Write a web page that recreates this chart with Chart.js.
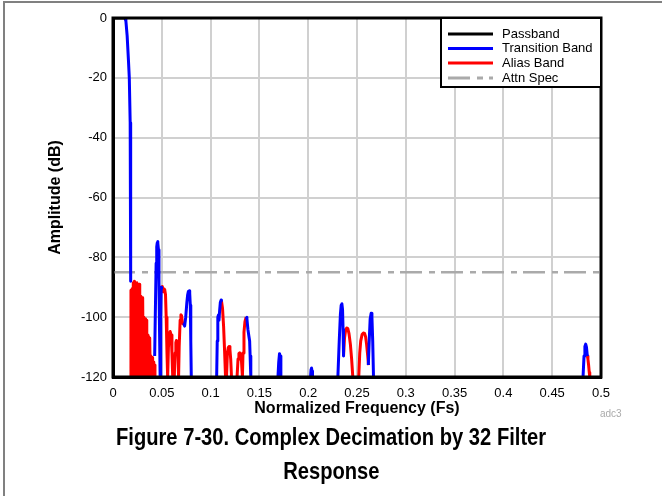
<!DOCTYPE html>
<html>
<head>
<meta charset="utf-8">
<script src="https://cdn.jsdelivr.net/npm/chart.js@4/dist/chart.umd.min.js"></script>
<style>
  body { margin: 0; background: #fff; font-family: "Liberation Sans", Arial, sans-serif; overflow: hidden; }
  #wrap { position: relative; width: 662px; height: 496px; overflow: hidden; }
  #frame { position: absolute; left: 3px; top: 1px; width: 659px; height: 495px;
           border-left: 2px solid #808080; border-top: 2px solid #808080; box-sizing: border-box; }
  #chart { position: absolute; left: 0; top: 0; }
  #tag { position: absolute; left: 600px; top: 408px; font-size: 10px; color: #aaa; }
  #caption { position: absolute; left: 0; top: 420px; width: 662px; text-align: center;
             font-weight: bold; font-size: 24px; line-height: 34px; color: #000; }
  #caption span { display: inline-block; transform: scaleX(0.84); transform-origin: center; white-space: nowrap; }
</style>
</head>
<body>
<div id="wrap">
  <div id="frame"></div>
  <canvas id="chart" width="662" height="420"></canvas>
  <div id="tag">adc3</div>
  <div id="caption"><span>Figure 7-30. Complex Decimation by 32 Filter</span><br><span>Response</span></div>
</div>
<script>
const xTicks = [0, 0.05, 0.1, 0.15, 0.2, 0.25, 0.3, 0.35, 0.4, 0.45, 0.5];
const xTickLabels = ["0", "0.05", "0.1", "0.15", "0.2", "0.25", "0.3", "0.35", "0.4", "0.45", "0.5"];
const yTickLabels = ["0", "-20", "-40", "-60", "-80", "-100", "-120"];

const seriesNames = ["Passband", "Transition Band", "Alias Band", "Attn Spec"];
const seriesColors = ["#000000", "#0000ff", "#ff0000", "#aaaaaa"];

const passX = [0, 0.004, 0.008, 0.0123];
const passY = [0, 0, 0, 0];

// null = break in the curve
const transX = [0.0123, 0.0132, 0.0145, 0.0158, 0.0167, 0.0176, 0.018, 0.0182, null,
  0.0427, 0.0434, 0.0442, 0.0448, 0.0453, 0.0457, 0.0461, 0.0466, 0.0471, 0.0477, 0.0483, 0.0489, 0.0494, 0.0498, null,
  0.0726, 0.0734, 0.0745, 0.0757, 0.0765, 0.0772, 0.078, 0.0786, 0.0792, 0.0797, 0.0802, null,
  0.1062, 0.1068, 0.1074, 0.108, 0.1086, 0.1092, 0.11, 0.1108, 0.1111, null,
  0.1364, 0.1372, 0.1382, 0.1392, 0.14, 0.1405, 0.1412, null,
  0.169, 0.1698, 0.1706, 0.1712, 0.172, null,
  0.2024, 0.2029, 0.2034, 0.2039, 0.2044, null,
  0.2304, 0.2318, 0.233, 0.2338, 0.2345, 0.2352, 0.2357, 0.2362, null,
  0.2616, 0.2625, 0.2635, 0.2645, 0.2653, 0.2661, 0.2669, null,
  0.4816, 0.4826, 0.4835, 0.4843, 0.4851, 0.486];
const transY = [0, -1, -6, -14, -20, -35, -60, -88, null,
  -113, -98, -82, -76.5, -75.2, -74.7, -75.2, -77.5, -88, -105, -120, -100, -90, -90.3, null,
  -102, -103, -100, -95, -92.5, -91.4, -91.2, -92, -96, -108, -120, null,
  -120, -108, -100, -99.3, -101, -98, -95, -94.3, -94.5, null,
  -100, -100.5, -104, -106.3, -108, -113, -120, null,
  -120, -115, -112.2, -113, -120, null,
  -120, -117.5, -117, -118, -120, null,
  -120, -108, -99, -96, -95.5, -97.5, -104, -113, null,
  -116, -108, -100.5, -98.7, -100, -108, -120, null,
  -120, -113, -109.8, -109, -110, -113];

const aliasX = [0.0182, 0.0184, 0.019, 0.0196, 0.0202, 0.0208, 0.0214, 0.022, 0.0226, 0.0232,
  0.0238, 0.0244, 0.025, 0.0256, 0.0262, 0.0268, 0.0274, 0.028, 0.0286, 0.0292,
  0.0298, 0.0304, 0.031, 0.0316, 0.0322, 0.0328, 0.0334, 0.034, 0.0346, 0.0352,
  0.0358, 0.0364, 0.037, 0.0376, 0.0382, 0.0388, 0.0394, 0.04, 0.0406, 0.0412,
  0.0418, 0.0424, 0.043, null,
  0.0498, 0.0506, 0.0514, 0.0522, 0.053, 0.0538, 0.0545, 0.0553, 0.056, 0.0568, 0.0578, 0.0586,
  0.0596, 0.0604, 0.0612, null,
  0.0628, 0.0636, 0.0644, 0.065, 0.0658, 0.0666, 0.0672, 0.0678, 0.0688, 0.0696, 0.0702, 0.071,
  0.0718, 0.0726, null,
  0.1111, 0.1122, 0.1133, 0.1143, 0.1153, null,
  0.1163, 0.1172, 0.1181, 0.1189, 0.1198, 0.1206, 0.1214, null,
  0.1271, 0.1281, 0.129, 0.1299, 0.1308, 0.1317, 0.1326, 0.1332, 0.1342, 0.1352, 0.1364, null,
  0.2362, 0.2372, 0.2383, 0.2395, 0.2406, 0.2418, 0.2432, 0.2445, 0.2457, null,
  0.2518, 0.2528, 0.2538, 0.2552, 0.2566, 0.2577, 0.2588, 0.2598, 0.261, 0.2618, null,
  0.486, 0.4866, 0.4873, 0.488, 0.4885];
const aliasY = [-120, -91, -120, -90.5, -115, -88.5, -120, -88, -112, -89,
  -120, -88.5, -110, -89.5, -120, -89, -114, -93, -120, -94,
  -111, -93.5, -120, -100, -116, -100.5, -120, -101, -117, -106,
  -120, -106.5, -118, -107, -120, -113, -120, -113.5, -120, -115,
  -120, -116, -120, null,
  -90.3, -89.8, -91.5, -90.5, -90.8, -92.5, -100, -112, -120, -110, -105.5, -104.8,
  -106, -112, -120, null,
  -120, -112, -108.5, -107.8, -109, -113, -120, -110, -101, -99.2, -99.5, -101.5,
  -102.3, -102, null,
  -94.5, -97, -103, -111, -120, null,
  -120, -112, -110.2, -109.8, -110.8, -114, -120, null,
  -120, -114, -112.2, -111.9, -112.5, -115, -120, -112, -105, -101.5, -100, null,
  -113, -107, -104.5, -103.6, -103.8, -105.5, -109, -114, -120, null,
  -120, -112, -108, -105.8, -105.3, -105.4, -106.5, -109, -113, -116, null,
  -113, -114, -116, -118.5, -120];

const attnX = [0, 0.5];
const attnY = [-85, -85];

function toPoints(xs, ys) {
  return xs.map((x, i) => ({ x: x === null ? NaN : x, y: ys[i] === null ? NaN : ys[i] }));
}

const plotLeft = 113, plotRight = 601, plotTop = 18, plotBottom = 377;
const canvasW = 662, canvasH = 420;
const tickFont = { family: "'Liberation Sans', Arial, sans-serif", size: 13 };
const titleFont = { family: "'Liberation Sans', Arial, sans-serif", size: 16, weight: "bold" };

const framePlugin = {
  id: "frame",
  afterDraw(chart) {
    const { ctx, chartArea: a } = chart;
    ctx.save();
    ctx.strokeStyle = "#000";
    ctx.lineWidth = 3;
    ctx.strokeRect(a.left, a.top, a.right - a.left, a.bottom - a.top);

    // legend box in the top-right corner of the plot
    const bx = 441, by = a.top, bw = a.right - 441, bh = 69;
    ctx.fillStyle = "#fff";
    ctx.fillRect(bx, by, bw, bh);
    ctx.lineWidth = 2;
    ctx.strokeRect(bx, by, bw, bh);

    const rows = [34, 48.5, 63, 78];
    ctx.font = "13px 'Liberation Sans', Arial, sans-serif";
    ctx.textBaseline = "middle";
    chart.data.datasets.forEach((ds, i) => {
      ctx.beginPath();
      ctx.strokeStyle = ds.borderColor;
      ctx.lineWidth = 3;
      ctx.setLineDash(ds.borderDash || []);
      ctx.moveTo(448, rows[i]);
      ctx.lineTo(493, rows[i]);
      ctx.stroke();
      ctx.setLineDash([]);
      ctx.fillStyle = "#000";
      ctx.fillText(ds.label, 502, rows[i]);
    });
    ctx.restore();
  }
};

new Chart(document.getElementById("chart"), {
  type: "line",
  data: {
    datasets: [
      { label: seriesNames[0], data: toPoints(passX, passY), borderColor: seriesColors[0], borderWidth: 3 },
      { label: seriesNames[1], data: toPoints(transX, transY), borderColor: seriesColors[1], borderWidth: 3 },
      { label: seriesNames[2], data: toPoints(aliasX, aliasY), borderColor: seriesColors[2], borderWidth: 3 },
      { label: seriesNames[3], data: toPoints(attnX, attnY), borderColor: seriesColors[3], borderWidth: 2.5, borderDash: [22, 7, 6, 6] }
    ]
  },
  options: {
    responsive: false,
    animation: false,
    spanGaps: false,
    elements: { point: { radius: 0 }, line: { tension: 0, borderJoinStyle: "round" } },
    layout: { padding: { top: plotTop, right: canvasW - plotRight, left: 0, bottom: 0 } },
    plugins: { legend: { display: false }, tooltip: { enabled: false } },
    scales: {
      x: {
        type: "linear",
        min: 0, max: 0.5,
        afterFit: s => { s.height = canvasH - plotBottom; },
        afterBuildTicks: s => { s.ticks = xTicks.map(v => ({ value: v })); },
        ticks: {
          font: tickFont, color: "#000", padding: 9, maxRotation: 0, autoSkip: false,
          callback: (v, i) => xTickLabels[i]
        },
        grid: { color: "#d0d0d0", lineWidth: 2, drawTicks: false },
        border: { color: "#000", width: 3 },
        title: { display: true, text: "Normalized Frequency (Fs)", font: titleFont, color: "#000", padding: { top: 0, bottom: 2 } }
      },
      y: {
        type: "linear",
        min: -120, max: 0,
        afterFit: s => { s.width = plotLeft; },
        ticks: {
          stepSize: 20, font: tickFont, color: "#000", padding: 6,
          callback: v => yTickLabels[Math.round(-v / 20)]
        },
        grid: { color: "#d0d0d0", lineWidth: 2, drawTicks: false },
        border: { color: "#000", width: 3 },
        title: { display: true, text: "Amplitude (dB)", font: titleFont, color: "#000", padding: { top: 46, bottom: 0 } }
      }
    }
  },
  plugins: [framePlugin]
});
</script>
</body>
</html>
